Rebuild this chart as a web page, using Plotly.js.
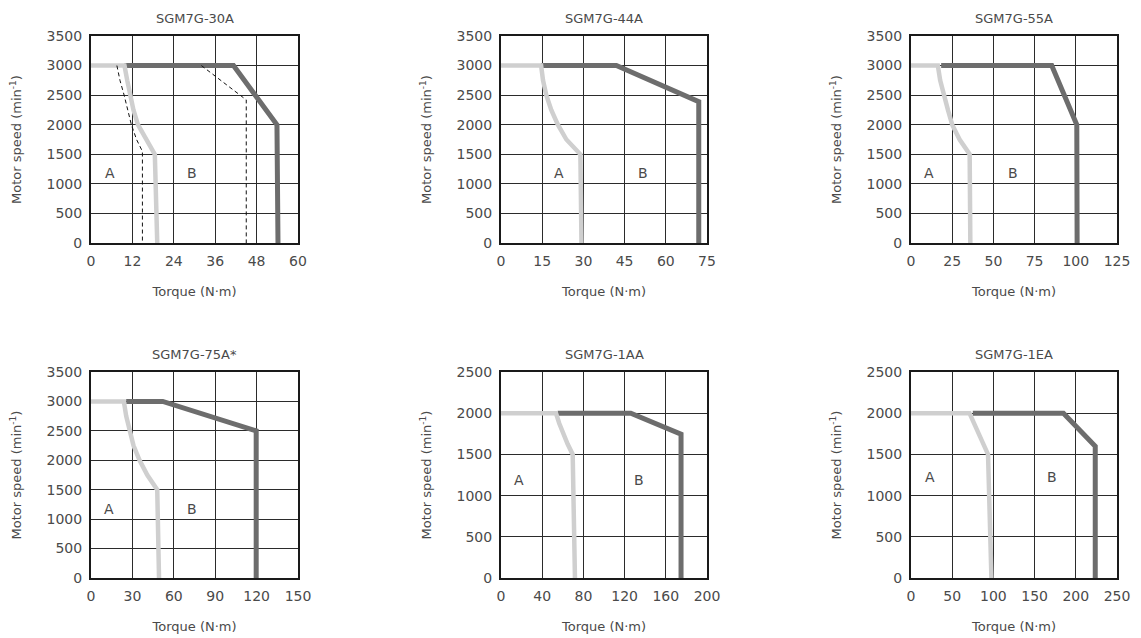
<!DOCTYPE html>
<html>
<head>
<meta charset="utf-8">
<script src="https://cdn.plot.ly/plotly-3.0.1.min.js"></script>
<style>
  html, body { margin: 0; padding: 0; background: #ffffff; }
  #chart { width: 1141px; height: 638px; }
</style>
</head>
<body>
<div id="chart"></div>
<script>
// ---------------- DATA ----------------
const modelNames = ['SGM7G-30A', 'SGM7G-44A', 'SGM7G-55A', 'SGM7G-75A*', 'SGM7G-1AA', 'SGM7G-1EA'];
const torqueMax = [60, 75, 125, 150, 200, 250];
const torqueStep = [12, 15, 25, 30, 40, 50];
const speedMax = [3500, 3500, 3500, 3500, 2500, 2500];
const xAxisTitle = 'Torque (N·m)';
const yAxisTitle = 'Motor speed (min<sup>-1</sup>)';

// A: continuous duty zone (light gray)
const contTorque30A = [0, 9.7, 10.5, 11.3, 12.3, 13.6, 16, 18.5, 19.2];
const contSpeed30A  = [3000, 3000, 2750, 2500, 2250, 2000, 1750, 1500, 0];
const contTorque44A = [0, 14.6, 15.3, 16.5, 18.3, 20.7, 23.8, 28.9, 29.3];
const contSpeed44A  = [3000, 3000, 2750, 2500, 2250, 2000, 1750, 1500, 0];
const contTorque55A = [0, 16.3, 17.7, 19.7, 22.4, 25, 29.5, 35.6, 36];
const contSpeed55A  = [3000, 3000, 2750, 2500, 2250, 2000, 1750, 1500, 0];
const contTorque75A = [0, 23.8, 25.5, 27.9, 30.8, 35.2, 40.8, 48, 49.3];
const contSpeed75A  = [3000, 3000, 2750, 2500, 2250, 2000, 1750, 1500, 0];
const contTorque1AA = [0, 53.4, 56.6, 60.5, 64.7, 69.6, 71.8];
const contSpeed1AA  = [2000, 2000, 1875, 1750, 1625, 1500, 0];
const contTorque1EA = [0, 71, 93.5, 97.6];
const contSpeed1EA  = [2000, 2000, 1500, 0];

// B: intermittent duty zone (dark gray)
const intTorque30A = [9.7, 41.3, 53.9, 54.2];
const intSpeed30A  = [3000, 3000, 2000, 0];
const intTorque44A = [14.6, 42, 72, 72];
const intSpeed44A  = [3000, 3000, 2390, 0];
const intTorque55A = [18.3, 85.4, 100.6, 100.8];
const intSpeed55A  = [3000, 3000, 2000, 0];
const intTorque75A = [25.5, 52, 119.7, 119.7];
const intSpeed75A  = [3000, 3000, 2500, 0];
const intTorque1AA = [55, 126, 174.8, 174.8];
const intSpeed1AA  = [2000, 2000, 1745, 0];
const intTorque1EA = [75, 185, 223.6, 223.6];
const intSpeed1EA  = [2000, 2000, 1600, 0];

// Dashed reference lines (SGM7G-30A only)
const dashTorqueA30A = [7.5, 8.4, 9.6, 10.6, 11.7, 13.2, 14.9, 14.9];
const dashSpeedA30A  = [3000, 2750, 2500, 2250, 2000, 1750, 1550, 0];
const dashTorqueB30A = [32, 45, 45];
const dashSpeedB30A  = [3000, 2420, 0];

// Zone label positions (torque, speed)
const zoneLabels = ['A', 'B'];
const labelTorqueA = [5.4, 21.1, 11.2, 12.9, 17.8, 23.6];
const labelTorqueB = [29.4, 51.8, 61.6, 73.5, 134, 170.7];
const labelSpeed   = [1180, 1180, 1180, 1170, 1190, 1230];

const contTorque = [contTorque30A, contTorque44A, contTorque55A, contTorque75A, contTorque1AA, contTorque1EA];
const contSpeed  = [contSpeed30A, contSpeed44A, contSpeed55A, contSpeed75A, contSpeed1AA, contSpeed1EA];
const intTorque  = [intTorque30A, intTorque44A, intTorque55A, intTorque75A, intTorque1AA, intTorque1EA];
const intSpeed   = [intSpeed30A, intSpeed44A, intSpeed55A, intSpeed75A, intSpeed1AA, intSpeed1EA];

// ---------------- LAYOUT ----------------
const W = 1141, H = 638;
const colPx = [[91, 298], [501, 707], [911, 1117]];
const rowPx = [[36, 243], [372, 578]];
const FONT = 'DejaVu Sans, Liberation Sans, Arial, sans-serif';
const TXT = '#4a4a4a';
const LIGHT = '#cfcfcf';
const DARK = '#6d6d6d';

const traces = [];
const layout = {
  width: W, height: H,
  margin: {l: 0, r: 0, t: 0, b: 0},
  paper_bgcolor: '#ffffff',
  plot_bgcolor: '#ffffff',
  showlegend: false,
  font: {family: FONT, size: 13, color: TXT},
  annotations: []
};

for (let i = 0; i < 6; i++) {
  const r = Math.floor(i / 3), c = i % 3;
  const sfx = i === 0 ? '' : String(i + 1);
  const xa = 'x' + sfx, ya = 'y' + sfx;
  const xd = [colPx[c][0] / W, colPx[c][1] / W];
  const yd = [1 - rowPx[r][1] / H, 1 - rowPx[r][0] / H];

  layout['xaxis' + sfx] = {
    domain: xd, anchor: ya, range: [0, torqueMax[i]],
    tick0: 0, dtick: torqueStep[i], ticks: '',
    showgrid: true, gridcolor: '#2b2b2b', gridwidth: 1,
    zeroline: false, showline: true, mirror: true,
    linecolor: '#1a1a1a', linewidth: 2,
    tickfont: {family: FONT, size: 14, color: TXT},
    ticklabelstandoff: 4, fixedrange: true,
    title: {text: xAxisTitle, font: {family: FONT, size: 13, color: TXT}, standoff: 19}
  };
  layout['yaxis' + sfx] = {
    domain: yd, anchor: xa, range: [0, speedMax[i]],
    tick0: 0, dtick: 500, ticks: '',
    showgrid: true, gridcolor: '#2b2b2b', gridwidth: 1,
    zeroline: false, showline: true, mirror: true,
    linecolor: '#1a1a1a', linewidth: 2,
    tickfont: {family: FONT, size: 14, color: TXT},
    ticklabelstandoff: 4, fixedrange: true,
    title: {text: yAxisTitle, font: {family: FONT, size: 13, color: TXT}, standoff: 22}
  };

  // intermittent (dark) first, continuous (light) on top
  traces.push({
    type: 'scatter', mode: 'lines', xaxis: xa, yaxis: ya,
    x: intTorque[i], y: intSpeed[i],
    line: {color: DARK, width: 5}, hoverinfo: 'skip'
  });
  traces.push({
    type: 'scatter', mode: 'lines', xaxis: xa, yaxis: ya,
    x: contTorque[i], y: contSpeed[i],
    line: {color: LIGHT, width: 4.5}, hoverinfo: 'skip'
  });
  if (i === 0) {
    traces.push({
      type: 'scatter', mode: 'lines', xaxis: xa, yaxis: ya,
      x: dashTorqueA30A, y: dashSpeedA30A,
      line: {color: '#111111', width: 1, dash: '4px,3px'}, hoverinfo: 'skip'
    });
    traces.push({
      type: 'scatter', mode: 'lines', xaxis: xa, yaxis: ya,
      x: dashTorqueB30A, y: dashSpeedB30A,
      line: {color: '#111111', width: 1, dash: '4px,3px'}, hoverinfo: 'skip'
    });
  }

  // zone labels
  layout.annotations.push({
    xref: xa, yref: ya, x: labelTorqueA[i], y: labelSpeed[i], text: zoneLabels[0],
    showarrow: false, font: {family: FONT, size: 14, color: TXT}
  });
  layout.annotations.push({
    xref: xa, yref: ya, x: labelTorqueB[i], y: labelSpeed[i], text: zoneLabels[1],
    showarrow: false, font: {family: FONT, size: 14, color: TXT}
  });

  const cx = (colPx[c][0] + colPx[c][1]) / 2 / W;
  // subplot title
  layout.annotations.push({
    xref: 'paper', yref: 'paper', x: cx, y: 1 - (rowPx[r][0] - 18) / H,
    text: modelNames[i], showarrow: false, xanchor: 'center', yanchor: 'middle',
    font: {family: FONT, size: 13, color: TXT}
  });
}

Plotly.newPlot('chart', traces, layout, {displayModeBar: false, staticPlot: true});
</script>
</body>
</html>
